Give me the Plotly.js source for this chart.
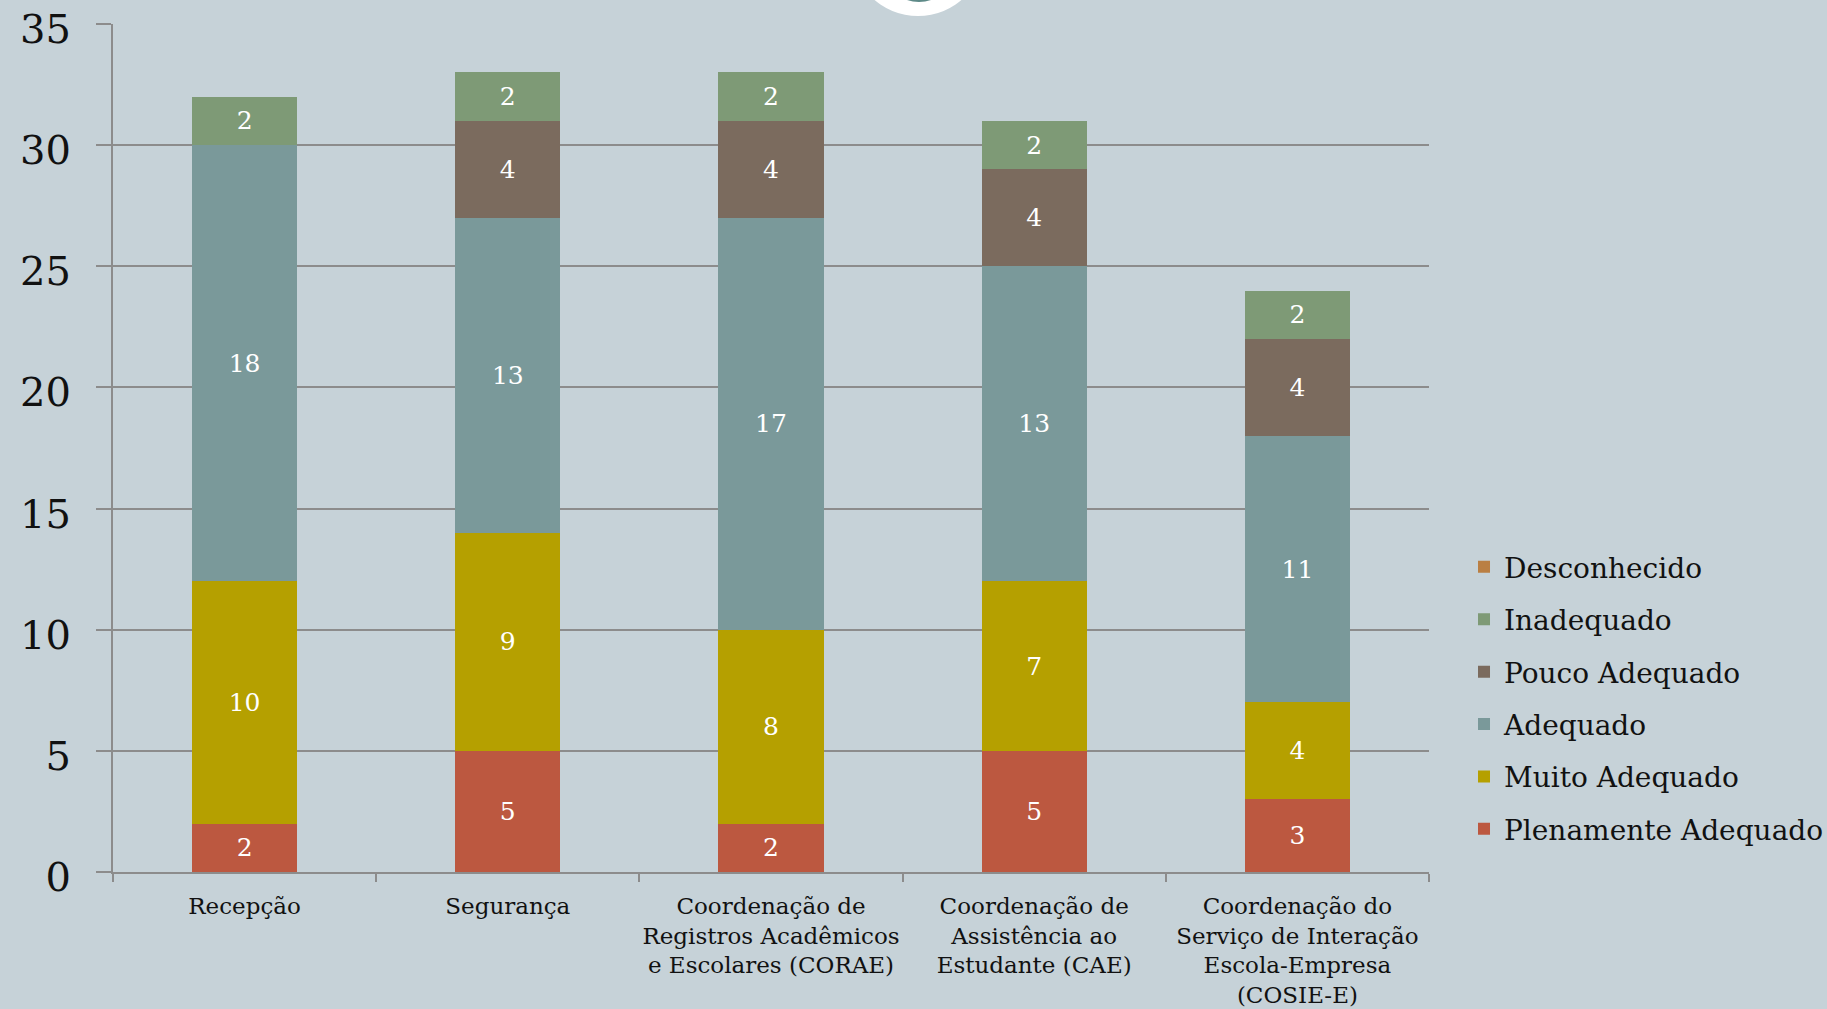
<!DOCTYPE html>
<html>
<head>
<meta charset="utf-8">
<script src="https://cdn.plot.ly/plotly-3.0.1.min.js"></script>
<style>
html,body{margin:0;padding:0;background:#C6D2D8;}
#chart{width:1827px;height:1009px;}
</style>
</head>
<body>
<div id="chart"></div>
<script>
const categories = [
  "Recepção",
  "Segurança",
  "Coordenação de<br>Registros Acadêmicos<br>e Escolares (CORAE)",
  "Coordenação de<br>Assistência ao<br>Estudante (CAE)",
  "Coordenação do<br>Serviço de Interação<br>Escola-Empresa<br>(COSIE-E)"
];
const plenamenteAdequado = [2, 5, 2, 5, 3];
const muitoAdequado      = [10, 9, 8, 7, 4];
const adequado           = [18, 13, 17, 13, 11];
const poucoAdequado      = [0, 4, 4, 4, 4];
const inadequado         = [2, 2, 2, 2, 2];
const desconhecido       = [0, 0, 0, 0, 0];
const yTicks = [0, 5, 10, 15, 20, 25, 30, 35];

const FONT = "DejaVu Serif, Liberation Serif, serif";

function mk(name, vals, color, grp, rank) {
  return {
    type: "bar",
    name: name,
    x: categories,
    y: vals,
    text: vals.map(v => v > 0 ? String(v) : ""),
    textposition: "inside",
    insidetextanchor: "middle",
    textangle: 0,
    constraintext: "none",
    textfont: {family: FONT, size: 25, color: "#FFFFFF"},
    marker: {color: color, line: {width: 0}},
    legendgroup: grp,
    legendrank: rank,
    hoverinfo: "x+y+name"
  };
}

const data = [
  mk("Plenamente Adequado", plenamenteAdequado, "#BC5840", "a", 6),
  mk("Muito Adequado", muitoAdequado, "#B5A000", "b", 5),
  mk("Adequado", adequado, "#7A999A", "c", 4),
  mk("Pouco Adequado", poucoAdequado, "#7B6B5E", "d", 3),
  mk("Inadequado", inadequado, "#7E9A76", "e", 2),
  mk("Desconhecido", desconhecido, "#BA7F43", "f", 1)
];

// plot area in pixels (used only to place the decorative logo circle)
const PL = 113, PR = 1429, PT = 24, PB = 872;
const pw = PR - PL, ph = PB - PT;
function px(x) { return (x - PL) / pw; }
function py(y) { return (PB - y) / ph; }

const layout = {
  width: 1827,
  height: 1009,
  paper_bgcolor: "#C6D2D8",
  plot_bgcolor: "#C6D2D8",
  barmode: "stack",
  bargap: 0.6,
  margin: {l: PL, r: 1827 - PR, t: PT, b: 1009 - PB, autoexpand: false},
  font: {family: FONT, color: "#111111"},
  xaxis: {
    type: "category",
    showline: true,
    linecolor: "#8C8C8C",
    linewidth: 2,
    ticks: "outside",
    tickson: "boundaries",
    ticklen: 8,
    tickcolor: "#8C8C8C",
    tickwidth: 2,
    tickangle: 0,
    tickfont: {family: FONT, size: 23, color: "#111111"},
    ticklabelstandoff: 12,
    showgrid: false,
    zeroline: false
  },
  yaxis: {
    range: [0, 35],
    tickvals: yTicks,
    ticktext: yTicks.map(String),
    showline: true,
    linecolor: "#8C8C8C",
    linewidth: 2,
    ticks: "outside",
    ticklen: 15,
    tickcolor: "#8C8C8C",
    tickwidth: 2,
    showgrid: true,
    gridcolor: "#8C8C8C",
    gridwidth: 2,
    zeroline: false,
    tickfont: {family: FONT, size: 40, color: "#111111"},
    ticklabelstandoff: 17,
    ticklabelshift: 5
  },
  showlegend: true,
  legend: {
    x: 1.0266,
    xanchor: "left",
    y: 0.205,
    yanchor: "middle",
    traceorder: "grouped",
    tracegroupgap: 13,
    font: {family: FONT, size: 28, color: "#111111"},
    bgcolor: "rgba(0,0,0,0)",
    itemwidth: 30
  },
  shapes: [
    {type: "circle", xref: "paper", yref: "paper", layer: "above",
     x0: px(918 - 67), x1: px(918 + 67),
     y0: py(16), y1: py(16 - 134),
     fillcolor: "#FFFFFF", line: {width: 0}},
    {type: "circle", xref: "paper", yref: "paper", layer: "above",
     x0: px(919 - 37), x1: px(919 + 37),
     y0: py(2), y1: py(2 - 74),
     fillcolor: "#5E8A88", line: {width: 0}}
  ]
};

Plotly.newPlot("chart", data, layout, {displayModeBar: false, staticPlot: true});
</script>
</body>
</html>
